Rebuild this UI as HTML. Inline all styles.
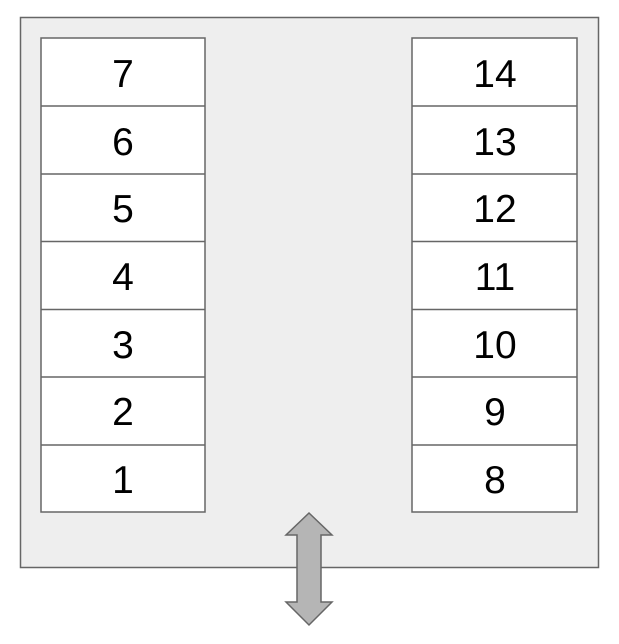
<html><body style="margin:0;background:#fff;width:619px;height:644px;overflow:hidden">
<svg width="619" height="644" xmlns="http://www.w3.org/2000/svg" font-family="Liberation Sans, sans-serif">
<rect x="20.5" y="17.5" width="578" height="550" fill="#eeeeee" stroke="#666" stroke-width="1.5"/>
<g stroke="#666" stroke-width="1.5" fill="#fff">
<rect x="41" y="38" width="164" height="474"/>
<rect x="412" y="38" width="165" height="474"/>
<path d="M41 106H205M41 174H205M41 241.5H205M41 309.5H205M41 377H205M41 445H205M412 106H577M412 174H577M412 241.5H577M412 309.5H577M412 377H577M412 445H577"/>
</g>
<g font-size="39" text-anchor="middle" fill="#000">
<text x="123" y="87">7</text><text x="123" y="155">6</text><text x="123" y="222">5</text><text x="123" y="290">4</text><text x="123" y="358">3</text><text x="123" y="425">2</text><text x="123" y="493">1</text>
<text x="495" y="87">14</text><text x="495" y="155">13</text><text x="495" y="222">12</text><text x="495" y="290">11</text><text x="495" y="358">10</text><text x="495" y="425">9</text><text x="495" y="493">8</text>
</g>
<path d="M309 513L332 535H321V602H332L309 625L286 602H297V535H286Z" fill="#b5b5b5" stroke="#666" stroke-width="1.5"/>
</svg>
</body></html>
